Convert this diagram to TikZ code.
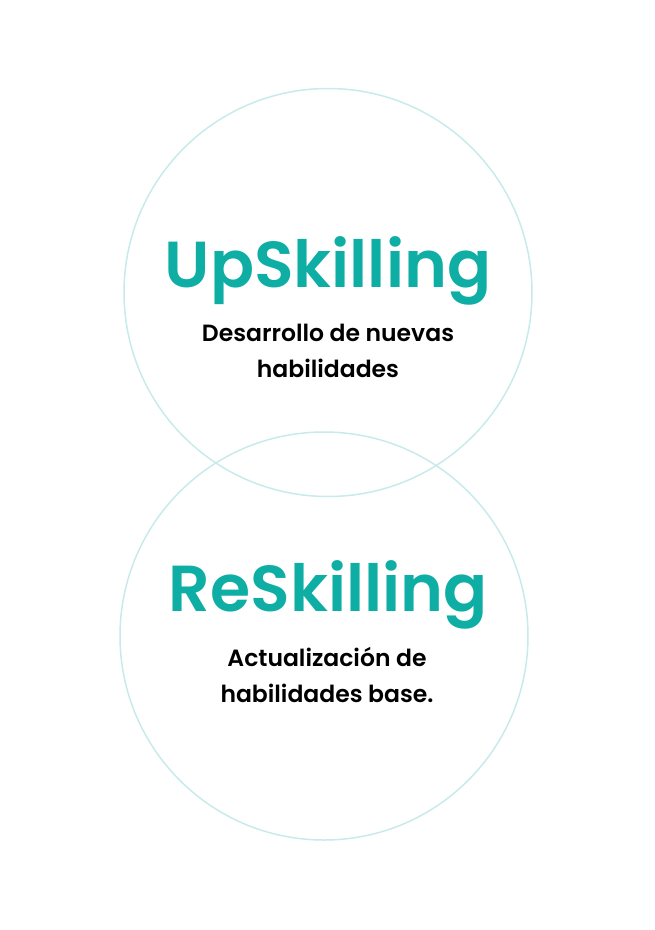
\documentclass[tikz,border=0pt]{standalone}
\usepackage{fontspec}
\setmainfont{Poppins}[BoldFont={Poppins SemiBold}]
\usepackage{tikz}
\usetikzlibrary{positioning}
\definecolor{skteal}{RGB}{14,174,165}
\definecolor{skring}{RGB}{200,234,234}

\begin{document}
\begin{tikzpicture}[x=1pt,y=-1pt,
    ring/.style={circle,draw=skring,line width=1.5pt,minimum size=408pt,inner sep=0pt},
    title/.style={text=skteal,font=\fontsize{65}{70}\selectfont\bfseries,inner sep=0pt},
    subtitle/.style={text=black,font=\fontsize{23.5}{36}\selectfont\bfseries,align=center,inner sep=0pt}]
    \useasboundingbox (0,0) rectangle (654,930);
    \node[ring] (upring) at (328,292.5) {};
    \node[ring] (rering) at (324,636) {};
    \node[title,anchor=base] (uptitle) at (328,287) {UpSkilling};
    \node[subtitle,anchor=base] (upsub) at (328,377) {Desarrollo de nuevas\\habilidades};
    \node[title,anchor=base] (retitle) at (328,611) {ReSkilling};
    \node[subtitle,anchor=base] (resub) at (327,702) {Actualización de\\habilidades base.};
  \end{tikzpicture}
\end{document}
